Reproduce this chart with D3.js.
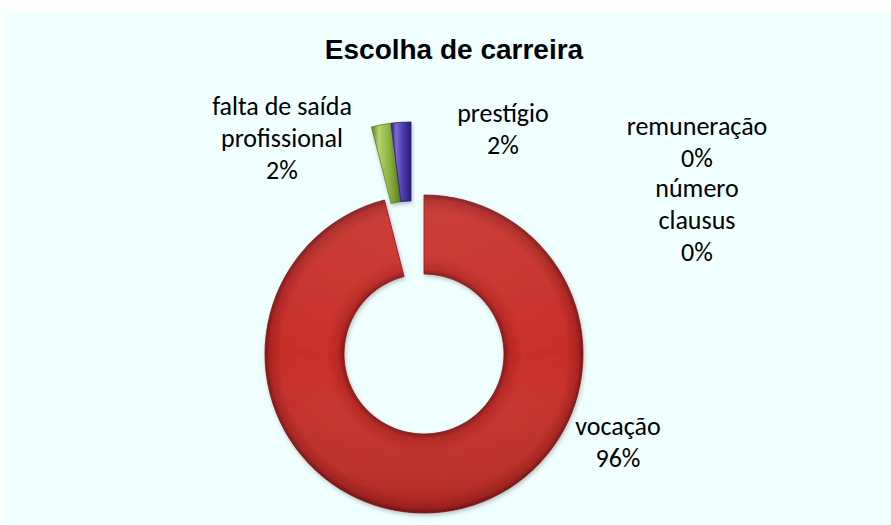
<!DOCTYPE html>
<html><head><meta charset="utf-8">
<script src="https://cdn.jsdelivr.net/npm/d3@7"></script>
<style>body{margin:0;background:#fff;overflow:hidden}</style>
</head><body><svg id="c" width="891" height="525"></svg>
<script>
// ---- data ----
const title = "Escolha de carreira";
const categories = ["vocação", "falta de saída profissional", "prestígio", "remuneração", "número clausus"];
const values = [96, 2, 2, 0, 0];
const percentLabels = ["96%", "2%", "2%", "0%", "0%"];

// ---- layout / style ----
const W = 891, H = 525;
const cx = 424, cy = 354, rOuter = 159, rInner = 80;
const colors = ["#c8302b", "#8db342", "#4d3bae"];
const darks = ["#7e1515", "#5b7c22", "#2a1f73"];
const lights = ["#e0504a", "#b2d46a", "#7a6ad6"];
const explodeOffset = [[0, 0], [-13, -73], [-13, -73], [0, 0], [0, 0]];
const labelAnchor = [[618, 435], [282, 115], [503, 122], [697, 135], [697, 197]];
const fontSize = 26, lineH = 32;

const svg = d3.select("#c");
const defs = svg.append("defs");

svg.append("rect").attr("x", 6).attr("y", 12).attr("width", W - 6).attr("height", H - 12)
  .attr("fill", "#f0ffff");

svg.append("text").attr("x", 454).attr("y", 59).attr("text-anchor", "middle")
  .attr("font-family", "Liberation Sans, Arial, sans-serif").attr("font-weight", "bold")
  .attr("font-size", 28).attr("fill", "#000").text(title);

// gradients
const rg = defs.append("radialGradient").attr("id", "ringGrad")
  .attr("gradientUnits", "userSpaceOnUse").attr("cx", 0).attr("cy", 0).attr("r", rOuter);
[[rInner / rOuter, "#8c1818"], [rInner / rOuter + 0.035, "#b82723"], [0.62, "#c9302b"],
 [0.9, "#c62e29"], [0.97, "#ab2320"], [1, "#7e1515"]]
  .forEach(([o, c]) => rg.append("stop").attr("offset", o).attr("stop-color", c));
const lg = defs.append("linearGradient").attr("id", "light")
  .attr("x1", 0).attr("y1", 0).attr("x2", 0).attr("y2", 1);
lg.append("stop").attr("offset", 0).attr("stop-color", "#fff").attr("stop-opacity", 0.08);
lg.append("stop").attr("offset", 0.5).attr("stop-color", "#fff").attr("stop-opacity", 0);
lg.append("stop").attr("offset", 1).attr("stop-color", "#000").attr("stop-opacity", 0.12);
[1, 2].forEach(i => {
  const g = defs.append("linearGradient").attr("id", "sg" + i)
    .attr("x1", 0).attr("y1", 0).attr("x2", 1).attr("y2", 0);
  g.append("stop").attr("offset", 0).attr("stop-color", darks[i]);
  g.append("stop").attr("offset", 0.25).attr("stop-color", lights[i]);
  g.append("stop").attr("offset", 0.6).attr("stop-color", colors[i]);
  g.append("stop").attr("offset", 1).attr("stop-color", darks[i]);
});
const f = defs.append("filter").attr("id", "sh").attr("x", -0.2).attr("y", -0.2).attr("width", 1.4).attr("height", 1.4);
f.append("feDropShadow").attr("dx", 1).attr("dy", 2).attr("stdDeviation", 2)
  .attr("flood-color", "#000").attr("flood-opacity", 0.25);

const data = categories.map((c, i) => ({ name: c, value: values[i], pct: percentLabels[i], i }));
const pie = d3.pie().sort(null).value(d => d.value).startAngle(0).endAngle(2 * Math.PI);
const arc = d3.arc().innerRadius(rInner).outerRadius(rOuter);
const arcs = pie(data);

const chart = svg.append("g").attr("transform", `translate(${cx},${cy})`);
const slices = chart.selectAll("g.slice").data(arcs.filter(d => d.data.value > 0)).join("g")
  .attr("class", "slice")
  .attr("transform", d => `translate(${explodeOffset[d.data.i][0]},${explodeOffset[d.data.i][1]})`)
  .attr("filter", "url(#sh)");
slices.append("path").attr("d", arc)
  .attr("fill", d => d.data.i === 0 ? "url(#ringGrad)" : `url(#sg${d.data.i})`)
  .attr("stroke", d => darks[d.data.i]).attr("stroke-width", 0.8);
slices.filter(d => d.data.i === 0).append("path").attr("d", arc)
  .attr("fill", "url(#light)");

// labels
const lab = svg.append("g").attr("font-family", "Carlito, Lato, sans-serif")
  .attr("font-size", fontSize).attr("fill", "#000").attr("text-anchor", "middle");
const maxW = 6.2 * fontSize;
arcs.forEach(d => {
  const [x, y] = labelAnchor[d.data.i];
  const t = lab.append("text").attr("x", x).attr("y", y);
  const words = d.data.name.split(" ");
  let lines = [], cur = "";
  const probe = lab.append("text").attr("visibility", "hidden");
  words.forEach(w => {
    const test = cur ? cur + " " + w : w;
    probe.text(test);
    if (cur && probe.node().getComputedTextLength() > maxW) { lines.push(cur); cur = w; }
    else cur = test;
  });
  lines.push(cur);
  probe.remove();
  lines.push(d.data.pct);
  lines.forEach((l, k) => t.append("tspan").attr("x", x).attr("y", y + k * lineH).text(l));
});
</script></body></html>
